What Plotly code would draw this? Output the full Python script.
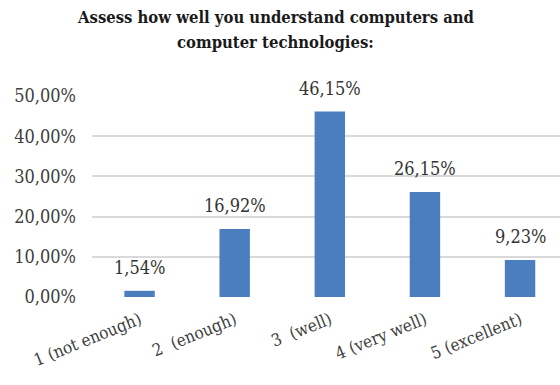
import plotly.graph_objects as go

categories = ["1 (not enough)", "2  (enough)", "3  (well)", "4 (very well)", "5 (excellent)"]
values = [1.54, 16.92, 46.15, 26.15, 9.23]
tick_values = [0, 10, 20, 30, 40, 50]
tick_labels = ["0,00%", "10,00%", "20,00%", "30,00%", "40,00%", "50,00%"]
title_lines = ["Assess how well you understand computers and", "computer technologies:"]

labels = [f"{v:.2f}%".replace(".", ",") for v in values]
xpos = list(range(len(categories)))

serif = "DejaVu Serif Condensed"

fig = go.Figure(
    go.Bar(
        x=xpos,
        y=values,
        marker=dict(color="#4A7EBF", line=dict(width=0)),
        width=0.32,
        cliponaxis=False,
    )
)

# value labels above each bar
for xi, v, lab in zip(xpos, values, labels):
    fig.add_annotation(
        x=xi, y=v, xref="x", yref="y",
        text=lab, showarrow=False,
        yanchor="middle", yshift=23,
        font=dict(family=serif, size=18, color="#333333"),
    )

# two-line bold title
for yy, line in zip([1.393, 1.264], title_lines):
    fig.add_annotation(
        x=0.393, y=yy, xref="paper", yref="paper",
        text=f"<b>{line}</b>", showarrow=False,
        xanchor="center", yanchor="middle",
        font=dict(family=serif, size=16.5, color="#1a1a1a"),
    )

fig.update_layout(
    width=560,
    height=385,
    margin=dict(l=92, r=0, t=96, b=88),
    paper_bgcolor="white",
    plot_bgcolor="white",
    showlegend=False,
    xaxis=dict(
        tickmode="array",
        tickvals=xpos,
        ticktext=categories,
        range=[-0.5, 4.42],
        tickangle=-22,
        ticklabelstandoff=9,
        showgrid=False,
        zeroline=False,
        showline=False,
        ticks="",
        tickfont=dict(family=serif, size=17, color="#404040"),
    ),
    yaxis=dict(
        range=[0, 50],
        tickmode="array",
        tickvals=tick_values,
        ticktext=tick_labels,
        showgrid=True,
        gridcolor="#D9D9D9",
        gridwidth=1.5,
        zeroline=False,
        showline=False,
        ticks="",
        ticklen=0,
        ticklabelstandoff=15,
        tickfont=dict(family=serif, size=18, color="#404040"),
    ),
)

fig.write_html("out.html")
